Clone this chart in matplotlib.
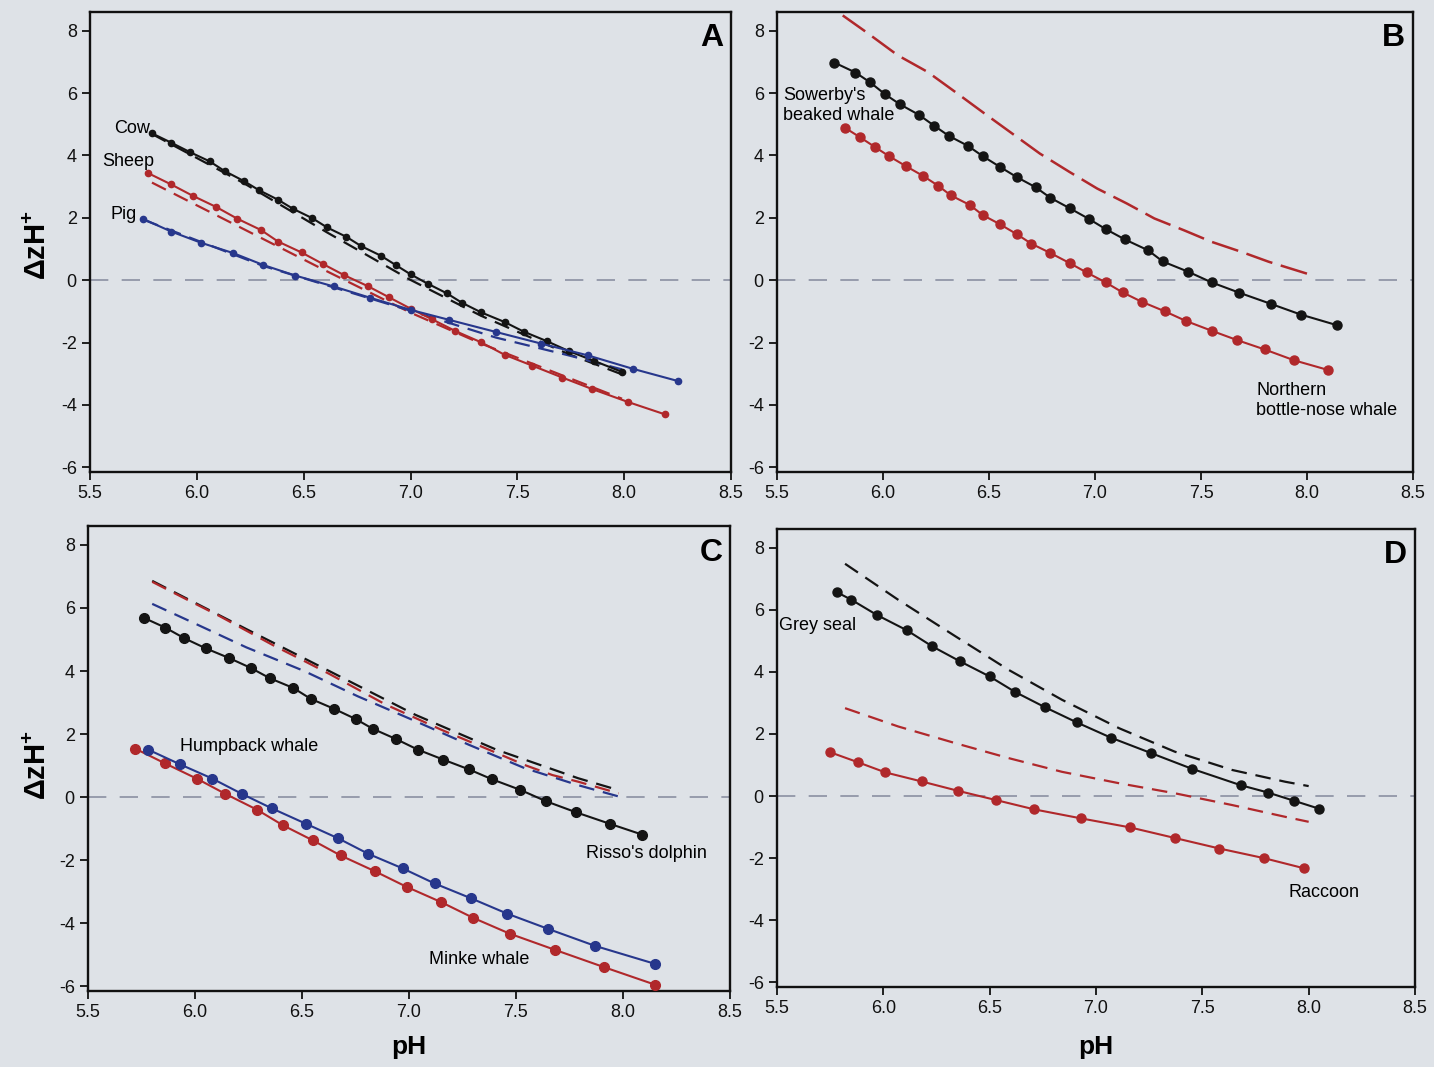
import numpy as np
import matplotlib.pyplot as plt

plt.rcParams['font.family'] = ['Liberation Sans', 'DejaVu Sans']
plt.rcParams['mathtext.fontset'] = 'custom'
plt.rcParams['mathtext.rm'] = 'Liberation Sans'
plt.rcParams['mathtext.bf'] = 'Liberation Sans:bold'
plt.rcParams['axes.unicode_minus'] = False

BLACK = '#141414'
RED = '#b0282b'
BLUE = '#27378c'
BG = '#dee2e7'
ZERO = '#8a90a2'

# ---- A: terrestrial mammals ----
cow_ph = [5.79, 5.88, 5.97, 6.06, 6.13, 6.22, 6.29, 6.38, 6.45, 6.54, 6.61, 6.70, 6.77,
          6.86, 6.93, 7.00, 7.08, 7.17, 7.24, 7.33, 7.44, 7.53, 7.64, 7.74, 7.86, 7.99]
cow_zh = [4.71, 4.41, 4.10, 3.81, 3.50, 3.18, 2.89, 2.58, 2.29, 1.99, 1.69, 1.39, 1.09,
          0.79, 0.49, 0.19, -0.11, -0.42, -0.72, -1.03, -1.34, -1.65, -1.96, -2.27, -2.59, -2.94]
cow_fit_ph = [5.79, 6.22, 6.61, 7.00, 7.33, 7.74, 7.99]
cow_fit_zh = [4.69, 3.11, 1.53, 0.01, -1.14, -2.37, -3.02]

sheep_ph = [5.77, 5.88, 5.98, 6.09, 6.19, 6.30, 6.38, 6.49, 6.59, 6.69, 6.80, 6.90, 7.00,
            7.10, 7.21, 7.33, 7.44, 7.57, 7.71, 7.85, 8.02, 8.19]
sheep_zh = [3.44, 3.07, 2.71, 2.35, 1.97, 1.61, 1.24, 0.89, 0.52, 0.16, -0.19, -0.55, -0.91,
            -1.25, -1.63, -1.99, -2.39, -2.74, -3.12, -3.49, -3.91, -4.30]
sheep_fit_ph = [5.79, 6.19, 6.59, 7.00, 7.33, 7.71, 7.99]
sheep_fit_zh = [3.13, 1.74, 0.35, -1.04, -2.03, -3.05, -3.80]

pig_ph = [5.75, 5.88, 6.02, 6.17, 6.31, 6.46, 6.64, 6.81, 7.00, 7.18, 7.40, 7.61, 7.83, 8.04, 8.25]
pig_zh = [1.96, 1.56, 1.20, 0.87, 0.49, 0.15, -0.20, -0.56, -0.95, -1.27, -1.66, -2.03, -2.41, -2.84, -3.23]
pig_fit_ph = [5.75, 6.31, 7.00, 7.40, 7.74, 7.99]
pig_fit_zh = [1.94, 0.46, -0.98, -1.84, -2.41, -2.86]

# ---- B: beaked whales ----
sowerby_ph = [5.77, 5.87, 5.94, 6.01, 6.08, 6.17, 6.24, 6.31, 6.40, 6.47, 6.55, 6.63, 6.72,
              6.79, 6.88, 6.97, 7.05, 7.14, 7.25, 7.32, 7.44, 7.55, 7.68, 7.83, 7.97, 8.14]
sowerby_zh = [6.98, 6.66, 6.34, 5.96, 5.64, 5.30, 4.96, 4.63, 4.31, 3.98, 3.64, 3.31, 2.98,
              2.64, 2.31, 1.97, 1.64, 1.31, 0.96, 0.60, 0.27, -0.07, -0.40, -0.76, -1.10, -1.44]
bottlenose_ph = [5.82, 5.89, 5.96, 6.03, 6.11, 6.19, 6.26, 6.32, 6.41, 6.47, 6.55, 6.63, 6.70,
                 6.79, 6.88, 6.96, 7.05, 7.13, 7.22, 7.33, 7.43, 7.55, 7.67, 7.80, 7.94, 8.10]
bottlenose_zh = [4.89, 4.59, 4.28, 3.97, 3.65, 3.34, 3.03, 2.72, 2.41, 2.09, 1.80, 1.48, 1.17,
                 0.87, 0.55, 0.25, -0.07, -0.39, -0.69, -1.00, -1.31, -1.62, -1.92, -2.22, -2.57, -2.88]
bottlenose_fit_ph = [5.81, 5.92, 6.07, 6.21, 6.34, 6.48, 6.61, 6.74, 6.88, 7.01, 7.15, 7.28,
                     7.42, 7.55, 7.69, 7.82, 8.00]
bottlenose_fit_zh = [8.49, 7.96, 7.21, 6.68, 6.04, 5.34, 4.70, 4.06, 3.47, 2.94, 2.46, 1.98,
                     1.60, 1.23, 0.91, 0.59, 0.21]

# ---- C: dolphin and baleen whales ----
risso_ph = [5.76, 5.86, 5.95, 6.05, 6.16, 6.26, 6.35, 6.46, 6.54, 6.65, 6.75, 6.83, 6.94,
            7.04, 7.16, 7.28, 7.39, 7.52, 7.64, 7.78, 7.94, 8.09]
risso_zh = [5.69, 5.38, 5.04, 4.72, 4.41, 4.10, 3.77, 3.46, 3.12, 2.80, 2.48, 2.17, 1.84,
            1.51, 1.19, 0.88, 0.56, 0.23, -0.13, -0.48, -0.85, -1.19]
risso_fit_ph = [5.80, 6.24, 6.63, 7.03, 7.41, 7.79, 7.98]
risso_fit_zh = [6.86, 5.33, 3.99, 2.61, 1.50, 0.60, 0.22]

humpback_ph = [5.78, 5.93, 6.08, 6.22, 6.36, 6.52, 6.67, 6.81, 6.97, 7.12, 7.29, 7.46, 7.65, 7.87, 8.15]
humpback_zh = [1.51, 1.04, 0.59, 0.10, -0.36, -0.85, -1.31, -1.80, -2.26, -2.74, -3.21, -3.70, -4.18, -4.72, -5.29]
humpback_fit_ph = [5.80, 5.97, 6.24, 6.51, 6.76, 7.03, 7.28, 7.54, 7.79, 7.98]
humpback_fit_zh = [6.13, 5.60, 4.75, 4.00, 3.20, 2.41, 1.66, 0.92, 0.38, 0.02]

minke_ph = [5.72, 5.86, 6.01, 6.14, 6.29, 6.41, 6.55, 6.68, 6.84, 6.99, 7.15, 7.30, 7.47, 7.68, 7.91, 8.15]
minke_zh = [1.54, 1.07, 0.58, 0.11, -0.40, -0.89, -1.37, -1.85, -2.35, -2.85, -3.33, -3.83, -4.33, -4.84, -5.39, -5.95]
minke_fit_ph = [5.80, 5.97, 6.11, 6.24, 6.37, 6.51, 6.63, 6.76, 6.89, 7.03, 7.15, 7.28, 7.41,
                7.54, 7.67, 7.79, 7.98]
minke_fit_zh = [6.83, 6.24, 5.76, 5.28, 4.80, 4.32, 3.90, 3.42, 2.94, 2.51, 2.14, 1.77, 1.40,
                1.02, 0.70, 0.49, 0.12]

# ---- D: carnivores ----
seal_ph = [5.78, 5.85, 5.97, 6.11, 6.23, 6.36, 6.50, 6.62, 6.76, 6.91, 7.07, 7.26, 7.45,
           7.68, 7.81, 7.93, 8.05]
seal_zh = [6.57, 6.32, 5.83, 5.34, 4.82, 4.34, 3.85, 3.35, 2.86, 2.37, 1.88, 1.38, 0.88,
           0.35, 0.11, -0.15, -0.41]
seal_fit_ph = [5.82, 6.07, 6.34, 6.59, 6.84, 7.11, 7.37, 7.64, 7.89, 8.00]
seal_fit_zh = [7.48, 6.32, 5.14, 4.06, 3.10, 2.18, 1.43, 0.84, 0.46, 0.32]

raccoon_ph = [5.75, 5.88, 6.01, 6.18, 6.35, 6.53, 6.71, 6.93, 7.16, 7.37, 7.58, 7.79, 7.98]
raccoon_zh = [1.41, 1.09, 0.76, 0.47, 0.17, -0.13, -0.43, -0.72, -1.01, -1.35, -1.69, -2.00, -2.33]
raccoon_fit_ph = [5.82, 6.07, 6.34, 6.59, 6.84, 7.11, 7.37, 7.64, 7.89, 8.00]
raccoon_fit_zh = [2.83, 2.24, 1.70, 1.22, 0.78, 0.41, 0.09, -0.29, -0.67, -0.83]

ph_ticks = [5.5, 6.0, 6.5, 7.0, 7.5, 8.0, 8.5]
zh_ticks = [-6, -4, -2, 0, 2, 4, 6, 8]

fig = plt.figure(figsize=(14.34, 10.67), dpi=100, facecolor=BG)
W, H = 1434, 1067


def box(l, t, r, b):
    return [l / W, 1 - b / H, (r - l) / W, (b - t) / H]


axA = fig.add_axes(box(90, 12, 731, 472))
axB = fig.add_axes(box(777, 12, 1413, 472))
axC = fig.add_axes(box(88, 526, 730, 991))
axD = fig.add_axes(box(777, 529, 1415, 987))


def setup(ax, letter):
    ax.set_facecolor(BG)
    ax.set_xlim(5.5, 8.5)
    ax.set_ylim(-6.15, 8.6)
    ax.set_xticks(ph_ticks)
    ax.set_xticklabels(['%.1f' % v for v in ph_ticks])
    ax.set_yticks(zh_ticks)
    ax.tick_params(direction='out', length=6, width=1.3, labelsize=13, colors='#111111')
    for s in ax.spines.values():
        s.set_linewidth(1.7)
        s.set_color('#111111')
    ax.axhline(0, color=ZERO, lw=1.2, dashes=(11, 8), zorder=1)
    ax.text(0.988, 0.975, letter, transform=ax.transAxes, ha='right', va='top',
            fontsize=23, fontweight='bold')


def curve(ax, ph, zh, color, ms):
    ax.plot(ph, zh, '-', color=color, lw=1.5, marker='o', ms=ms, mec=color, mfc=color, zorder=3)


def fit(ax, ph, zh, color, lw=1.6, dashes=(7, 4)):
    ax.plot(ph, zh, color=color, lw=lw, dashes=dashes, zorder=2)


for ax, letter in [(axA, 'A'), (axB, 'B'), (axC, 'C'), (axD, 'D')]:
    setup(ax, letter)

# A
fit(axA, cow_fit_ph, cow_fit_zh, BLACK)
fit(axA, sheep_fit_ph, sheep_fit_zh, RED)
fit(axA, pig_fit_ph, pig_fit_zh, BLUE)
curve(axA, cow_ph, cow_zh, BLACK, 4.5)
curve(axA, sheep_ph, sheep_zh, RED, 4.5)
curve(axA, pig_ph, pig_zh, BLUE, 4.5)
axA.text(5.78, 4.85, 'Cow', ha='right', va='center', fontsize=13)
axA.text(5.80, 3.80, 'Sheep', ha='right', va='center', fontsize=13)
axA.text(5.72, 2.12, 'Pig', ha='right', va='center', fontsize=13)

# B
fit(axB, bottlenose_fit_ph, bottlenose_fit_zh, RED, lw=1.8, dashes=(11, 3.5))
curve(axB, sowerby_ph, sowerby_zh, BLACK, 6.5)
curve(axB, bottlenose_ph, bottlenose_zh, RED, 6.5)
axB.text(5.53, 5.93, "Sowerby's", ha='left', va='center', fontsize=13)
axB.text(5.53, 5.28, 'beaked whale', ha='left', va='center', fontsize=13)
axB.text(7.76, -3.53, 'Northern', ha='left', va='center', fontsize=13)
axB.text(7.76, -4.17, 'bottle-nose whale', ha='left', va='center', fontsize=13)

# C
fit(axC, risso_fit_ph, risso_fit_zh, BLACK)
fit(axC, minke_fit_ph, minke_fit_zh, RED)
fit(axC, humpback_fit_ph, humpback_fit_zh, BLUE)
curve(axC, risso_ph, risso_zh, BLACK, 7)
curve(axC, minke_ph, minke_zh, RED, 7)
curve(axC, humpback_ph, humpback_zh, BLUE, 7)
axC.text(5.93, 1.62, 'Humpback whale', ha='left', va='center', fontsize=13)
axC.text(8.11, -1.80, "Risso's dolphin", ha='center', va='center', fontsize=13)
axC.text(7.33, -5.15, 'Minke whale', ha='center', va='center', fontsize=13)

# D
fit(axD, seal_fit_ph, seal_fit_zh, BLACK)
fit(axD, raccoon_fit_ph, raccoon_fit_zh, RED)
curve(axD, seal_ph, seal_zh, BLACK, 6.5)
curve(axD, raccoon_ph, raccoon_zh, RED, 6.5)
axD.text(5.51, 5.48, 'Grey seal', ha='left', va='center', fontsize=13)
axD.text(8.07, -3.10, 'Raccoon', ha='center', va='center', fontsize=13)

# axis titles
ylab = r'$\mathbf{\Delta zH^{+}}$'
fig.text(38 / W, 1 - 245 / H, ylab, rotation=90, ha='center', va='center', fontsize=21)
fig.text(38 / W, 1 - 765 / H, ylab, rotation=90, ha='center', va='center', fontsize=21)
fig.text(409 / W, 1 - 1047 / H, 'pH', ha='center', va='center', fontsize=19, fontweight='bold')
fig.text(1096 / W, 1 - 1047 / H, 'pH', ha='center', va='center', fontsize=19, fontweight='bold')

fig.savefig('out.png', dpi=100, facecolor=BG)
